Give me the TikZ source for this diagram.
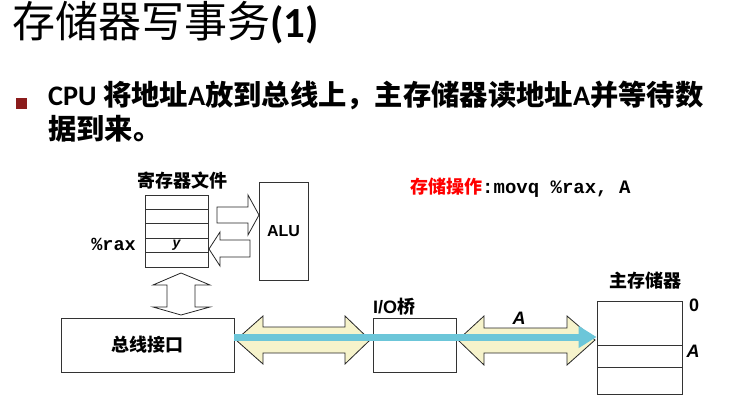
\documentclass[tikz,border=0pt]{standalone}
\usepackage{fontspec}
\setmainfont{Carlito}
\newfontfamily\cjk{Noto Sans CJK SC}
\newfontfamily\arialf{Liberation Sans}
\newfontfamily\monof{Liberation Mono}
\usetikzlibrary{arrows.meta}
\definecolor{bulletred}{HTML}{8B1C1C}
\definecolor{busyellow}{HTML}{F6F3CB}
\definecolor{buscyan}{HTML}{6CC6D9}
\newcommand{\zhb}[1]{{\cjk\bfseries #1}}

\begin{document}
\begin{tikzpicture}[x=1pt, y=-1pt,
  every node/.append style={font=\fontsize{18}{20}\selectfont, inner sep=0pt},
  box/.style={draw=black!80, line width=0.9pt, fill=white},
  blockarrow/.style={draw=black!85, line width=0.8pt, line join=miter},
  zhlabel/.style={font=\fontsize{18}{20}\selectfont\cjk\bfseries}]
  \useasboundingbox (0,0) rectangle (739,420);

  % title and bullet
  \node[anchor=base west] (title) at (12,38)
    {\fontsize{43}{46}\selectfont{\cjk 存储器写事务}\bfseries(1)};
  \node[fill=bulletred, minimum size=11pt] (bullet) at (21.5,103.5) {};
  \node[anchor=base west, font=\fontsize{28.3}{32}\selectfont\bfseries] (line1) at (48,105)
    {CPU \zhb{将地址}A\zhb{放到总线上，主存储器读地址}A\zhb{并等待数}};
  \node[anchor=base west, font=\fontsize{28.3}{32}\selectfont\bfseries] (line2) at (48,139)
    {\zhb{据到来。}};

  % register file
  \node[zhlabel] (reglabel) at (182,181) {寄存器文件};
  \foreach \i in {0,...,4}
    \node[box, minimum width=63pt, minimum height=14.4pt] (r\i) at (176.5,202.2+14.4*\i) {};
  \node[anchor=east, font=\fontsize{18.5}{20}\selectfont\monof\bfseries] (rax) at (136,244.5) {\%rax};
  \node[font=\fontsize{14}{16}\selectfont\arialf\bfseries\itshape] (yval) at (r3) {y};

  \node[box, minimum width=49pt, minimum height=98pt,
        font=\fontsize{16}{18}\selectfont\arialf\bfseries] (alu) at (283.5,231) {ALU};

  \draw[blockarrow] (217,207) -- (248,207) -- (248,195) -- (259,215) -- (248,235)
    -- (248,223) -- (217,223) -- cycle;
  \draw[blockarrow] (250,240) -- (220,240) -- (220,232) -- (209,249) -- (220,266)
    -- (220,257) -- (250,257) -- cycle;
  \draw[blockarrow] (181,273) -- (210,285) -- (195,285) -- (195,307) -- (210,307)
    -- (181,315) -- (153,307) -- (167,307) -- (167,285) -- (153,285) -- cycle;

  % store instruction
  \node[anchor=west] (instr) at (410,188)
    {\textcolor{red}{\zhb{存储操作}}{\fontsize{19}{20}\selectfont\monof\bfseries :movq \%rax, A}};

  % bus interface, bridge, memory
  \node[box, minimum width=173pt, minimum height=54pt, zhlabel] (bus) at (147.5,345) {总线接口};
  \node[box, minimum width=83pt, minimum height=54pt] (bridge) at (414.5,345) {};
  \node[anchor=base west, font=\fontsize{18}{20}\selectfont\arialf\bfseries] (bridgelabel)
    at (373,313) {I/O{\cjk\bfseries 桥}};

  \node[box, minimum width=85pt, minimum height=44pt] (memtop) at (639.5,323) {};
  \node[box, minimum width=85pt, minimum height=22pt] (memA) at (639.5,356) {};
  \node[box, minimum width=85pt, minimum height=27pt] (membot) at (639.5,380.5) {};
  \node[zhlabel] (memlabel) at (645,281) {主存储器};
  \node[font=\fontsize{18}{20}\selectfont\arialf\bfseries] (addr0) at (694,305) {0};
  \node[font=\fontsize{18}{20}\selectfont\arialf\bfseries\itshape] (addrA) at (693,351) {A};

  \draw[blockarrow, fill=busyellow] (236,340) -- (263,316) -- (263,327) -- (345,327)
    -- (345,316) -- (370,340) -- (345,364) -- (345,353) -- (263,353) -- (263,364) -- cycle;
  \draw[blockarrow, fill=busyellow] (458,340) -- (484,316) -- (484,328) -- (567,328)
    -- (567,316) -- (595,340) -- (567,365) -- (567,353) -- (484,353) -- (484,365) -- cycle;
  \node[anchor=south, font=\fontsize{18}{20}\selectfont\arialf\bfseries\itshape] (busA)
    at (519,325) {A};

  % address on the bus
  \coordinate (busstart) at (bus.east |- 0,337);
  \coordinate (busend) at (memtop.west |- 0,337);
  \draw[buscyan, line width=7pt, -{Triangle[length=18pt, width=21pt]}] (busstart) -- (busend);
\end{tikzpicture}
\end{document}
